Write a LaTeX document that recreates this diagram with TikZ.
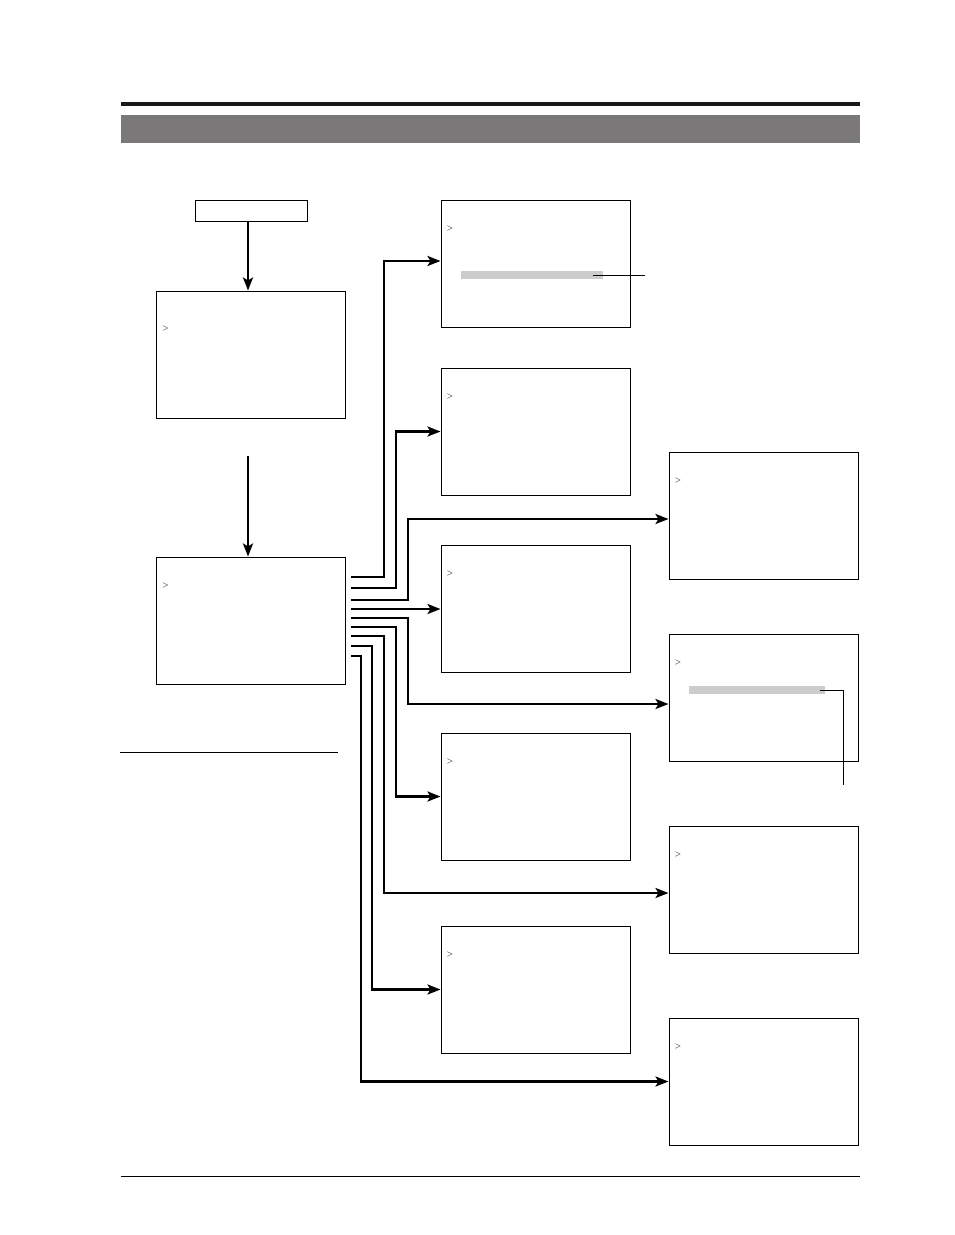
\documentclass[tikz,border=0pt]{standalone}
\usepackage{tikz}
\usetikzlibrary{arrows.meta, positioning}

\definecolor{bandgray}{HTML}{7A7878}
\definecolor{selgray}{HTML}{CCCCCC}

\begin{document}
\begin{tikzpicture}[
x=1pt, y=-1pt,
every node/.style={font=\footnotesize},
menu/.style={draw, rectangle, line width=1pt, minimum width=189pt, minimum height=127pt, inner sep=0pt},
keybox/.style={draw, rectangle, line width=1pt, minimum width=112pt, minimum height=21pt, inner sep=0pt},
cursor/.style={anchor=west, inner sep=0pt},
selbar/.style={fill=selgray, rectangle, minimum height=8pt, inner sep=0pt, anchor=west},
link/.style={line width=2.6pt, -{Stealth[length=13pt, width=10pt, inset=3pt]}},
callout/.style={line width=0.9pt}
]

\useasboundingbox (0,0) rectangle (954,1235);

% page header and rules
\fill[black!90] (121,102) rectangle (860,105.5);
\fill[bandgray] (121,115) rectangle (860,143);
\draw[line width=1pt] (120,752.5) -- (338,752.5);
\draw[line width=1pt] (121,1176.5) -- (860,1176.5);

% left column
\node[keybox] (start) at (251,210.5) {};
\node[menu, below=69pt of start] (menuA) {};
\node[menu, below=138pt of menuA] (menuB) {};

% middle column
\node[menu] (sub1) at (535.5,263.5) {};
\node[menu, below=40pt of sub1] (sub2) {};
\node[menu, below=49pt of sub2] (sub3) {};
\node[menu, below=60pt of sub3] (sub4) {};
\node[menu, below=65pt of sub4] (sub5) {};

% right column
\node[menu] (side1) at (763.5,515.5) {};
\node[menu, below=54pt of side1] (side2) {};
\node[menu, below=64pt of side2] (side3) {};
\node[menu, below=64pt of side3] (side4) {};

% cursors
\node[cursor] (cur-menuA) at ([shift={(6,38)}]menuA.north west) {>};
\foreach \m in {menuB,sub1,sub2,sub3,sub4,sub5,side1,side2,side3,side4}
  \node[cursor] (cur-\m) at ([shift={(6,29)}]\m.north west) {>};

% highlighted lines
\node[selbar, minimum width=142pt] (hl1) at ([shift={(20,11.5)}]sub1.west) {};
\node[selbar, minimum width=136pt] (hl2) at ([shift={(20,-7.5)}]side2.west) {};
\coordinate (tag1) at (645,275);
\coordinate (tag2) at (843,785);
\draw[callout] ([xshift=-10pt]hl1.east) -- (tag1);
\draw[callout] ([xshift=-5pt]hl2.east) -| (tag2);

% vertical arrows
\coordinate (next) at (248,456);
\draw[link] ([xshift=-3pt]start.south) -- ([xshift=-3pt]start.south |- menuA.north);
\draw[link] (next) -- (next |- menuB.north);

% branches out of menuB
\coordinate (b1) at (351,577);
\coordinate (b2) at (351,588);
\coordinate (b3) at (351,600);
\coordinate (b4) at (351,609);
\coordinate (b5) at (351,618);
\coordinate (b6) at (351,627);
\coordinate (b7) at (351,636);
\coordinate (b8) at (351,646);
\coordinate (b9) at (351,656);

\draw[link] (b1) -- ++(33,0) |- ([yshift=2.5pt]sub1.west);
\draw[link] (b2) -- ++(45,0) |- (sub2.west);
\draw[link] (b3) -- ++(57,0) |- ([yshift=-3.5pt]side1.west);
\draw[link] (b4) -- (b4 -| sub3.west);
\draw[link] (b5) -- ++(57,0) |- ([yshift=-6.5pt]side2.west);
\draw[link] (b6) -- ++(45,0) |- (sub4.west);
\draw[link] (b7) -- ++(33,0) |- ([yshift=-3.5pt]side3.west);
\draw[link] (b8) -- ++(21,0) |- (sub5.west);
\draw[link] (b9) -- ++(10,0) |- (side4.west);

\end{tikzpicture}
\end{document}
